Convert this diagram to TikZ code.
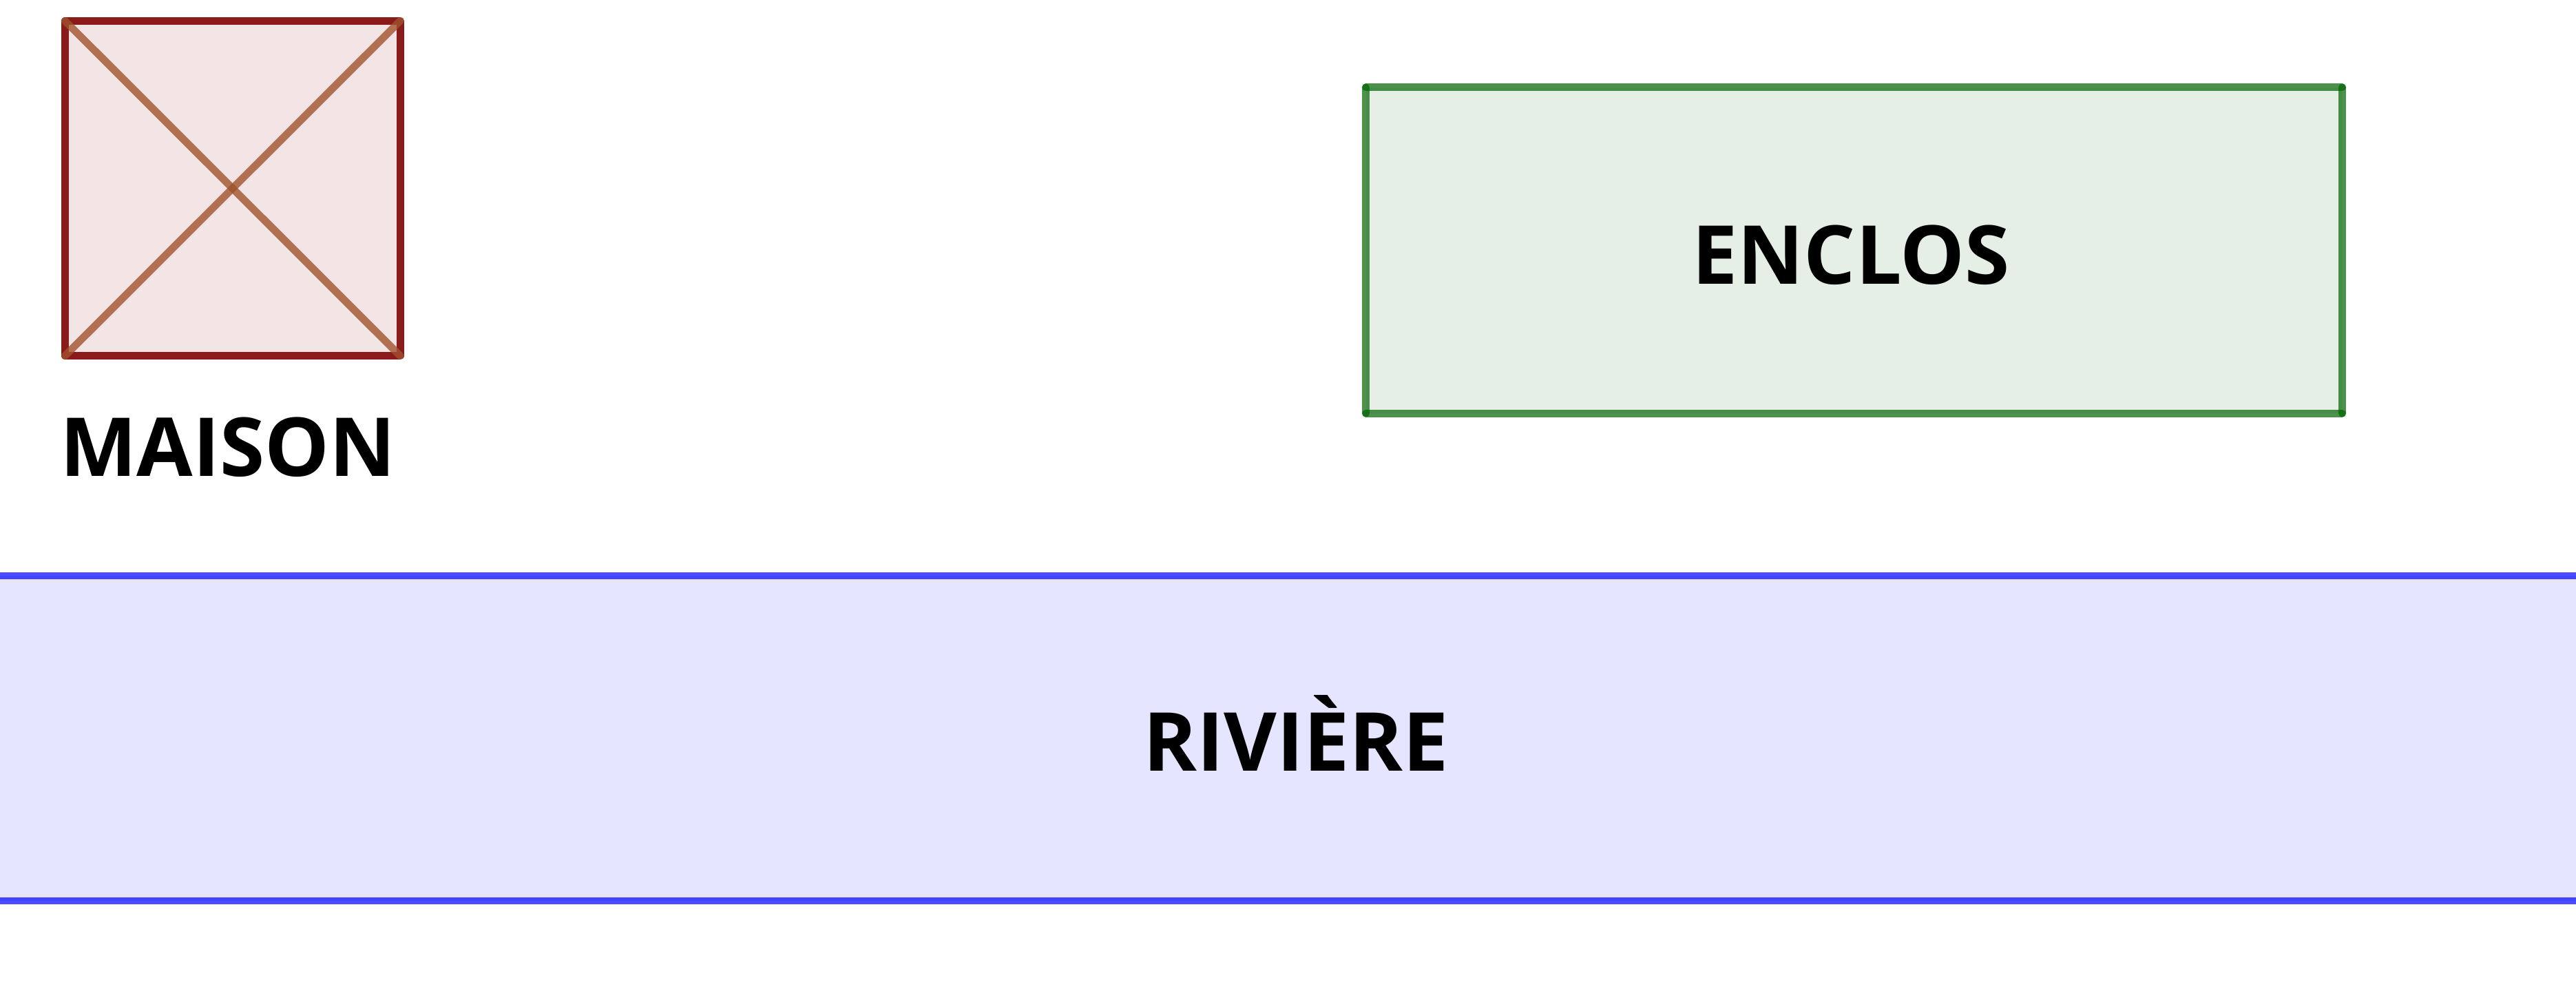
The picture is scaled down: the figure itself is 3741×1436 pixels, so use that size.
\documentclass[tikz,border=0pt]{standalone}
\usepackage{fontspec}
\setmainfont{Open Sans}
\definecolor{maisonline}{HTML}{8B1A1A}
\definecolor{maisonfill}{HTML}{8B0000}
\definecolor{diagcol}{HTML}{A0522D}
\definecolor{enclosline}{HTML}{006400}
\definecolor{riverline}{HTML}{0000FF}
\begin{document}
\begin{tikzpicture}[x=0.01cm,y=-0.01cm,
  lbl/.style={anchor=base, inner sep=0pt, font=\fontsize{33.6}{40}\selectfont\bfseries},
  maisonbox/.style={draw=maisonline, fill=maisonfill, fill opacity=0.1, draw opacity=1, line width=3.1pt, outer sep=0pt, inner sep=0pt, line join=round},
  diagline/.style={draw=diagcol, opacity=0.8, line width=3.1pt, line cap=round},
  enclosbox/.style={fill=enclosline, fill opacity=0.1, outer sep=0pt, inner sep=0pt},
  encloedge/.style={draw=enclosline, opacity=0.7, line width=3.1pt, line cap=round},
  riveredge/.style={draw=riverline, opacity=0.7, line width=3.1pt}]
\useasboundingbox (0,0) rectangle (3741,1436);
% river
\coordinate (rtl) at (0,836);
\coordinate (rtr) at (3741,836);
\coordinate (rbl) at (0,1308);
\coordinate (rbr) at (3741,1308);
\fill[riverline, fill opacity=0.1] (rtl) rectangle (rbr);
\draw[riveredge] (rtl) -- (rtr);
\draw[riveredge] (rbl) -- (rbr);
\node[lbl] (riviere) at (1882,1119) {RIVIÈRE};
% maison
\node[maisonbox, minimum width=4.865cm, minimum height=4.86cm] (maison) at (337.75,273.5) {};
\draw[diagline] (maison.north west) -- (maison.south east);
\draw[diagline] (maison.south west) -- (maison.north east);
\node[lbl] (maisonlabel) at (331,691) {MAISON};
% enclos
\node[enclosbox, minimum width=14.17cm, minimum height=4.73cm] (enclos) at (2692.5,363.5) {};
\draw[encloedge] (enclos.north west) -- (enclos.north east);
\draw[encloedge] (enclos.north east) -- (enclos.south east);
\draw[encloedge] (enclos.south east) -- (enclos.south west);
\draw[encloedge] (enclos.south west) -- (enclos.north west);
\node[lbl] (encloslabel) at (2688,412) {ENCLOS};
\end{tikzpicture}
\end{document}
